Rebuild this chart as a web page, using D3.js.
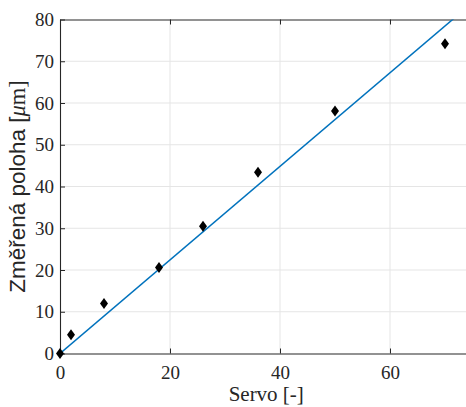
<!DOCTYPE html>
<html>
<head>
<meta charset="utf-8">
<script src="https://cdn.jsdelivr.net/npm/d3@7"></script>
<style>
  body { margin: 0; background: #fff; }
  svg { display: block; }
</style>
</head>
<body>
<script>
// measured points
var servo = [0, 2, 8, 18, 26, 36, 50, 70];
var poloha = [0, 4.5, 12, 20.6, 30.5, 43.4, 58.1, 74.2];
// fitted line (through origin)
var fitX = [0, 75];
var fitY = [0, 84.05];
var xTicks = [0, 20, 40, 60];
var yTicks = [0, 10, 20, 30, 40, 50, 60, 70, 80];

var width = 466, height = 407;
var plotLeft = 60, plotTop = 19.5, plotBottom = 353.5;

var svg = d3.select('body').append('svg').attr('width', width).attr('height', height);

var x = d3.scaleLinear().domain([0, 75]).range([plotLeft, plotLeft + 5.5 * 75]);
var y = d3.scaleLinear().domain([0, 80]).range([plotBottom, plotTop]);

svg.append('defs').append('clipPath').attr('id', 'clip')
  .append('rect')
  .attr('x', x(0)).attr('y', y(80))
  .attr('width', x(75) - x(0)).attr('height', y(0) - y(80));

// grid
var grid = svg.append('g').attr('stroke', '#e5e5e5').attr('stroke-width', 1);
grid.selectAll('.gx').data(xTicks.slice(1)).enter().append('line')
  .attr('x1', function (d) { return x(d); }).attr('x2', function (d) { return x(d); })
  .attr('y1', y(0)).attr('y2', y(80));
grid.selectAll('.gy').data(yTicks.slice(1, -1)).enter().append('line')
  .attr('y1', function (d) { return y(d); }).attr('y2', function (d) { return y(d); })
  .attr('x1', x(0)).attr('x2', x(75));

// axes
var xAxis = svg.append('g').attr('transform', 'translate(0,' + y(0) + ')')
  .call(d3.axisBottom(x).tickValues(xTicks).tickSizeInner(-5).tickSizeOuter(0).tickPadding(12));
var yAxis = svg.append('g').attr('transform', 'translate(' + x(0) + ',0)')
  .call(d3.axisLeft(y).tickValues(yTicks).tickSizeInner(-5).tickSizeOuter(0).tickPadding(6));
var xTop = svg.append('g').attr('transform', 'translate(0,' + y(80) + ')')
  .call(d3.axisTop(x).tickValues(xTicks).tickSizeInner(-5).tickSizeOuter(0).tickFormat(''));

[xAxis, yAxis, xTop].forEach(function (a) {
  a.select('.domain').attr('stroke', '#262626').attr('stroke-width', 1.1);
  a.selectAll('.tick line').attr('stroke', '#262626');
  a.selectAll('.tick text')
    .attr('fill', '#262626')
    .style('font-family', '"Liberation Serif", "Times New Roman", serif')
    .style('font-size', '19px');
});

// fit line
svg.append('path')
  .datum(d3.zip(fitX, fitY))
  .attr('clip-path', 'url(#clip)')
  .attr('fill', 'none')
  .attr('stroke', '#0072BD')
  .attr('stroke-width', 1.5)
  .attr('d', d3.line().x(function (d) { return x(d[0]); }).y(function (d) { return y(d[1]); }));

// markers
svg.selectAll('.pt')
  .data(d3.zip(servo, poloha))
  .enter().append('path')
  .attr('fill', '#000')
  .attr('transform', function (d) { return 'translate(' + x(d[0]) + ',' + y(d[1]) + ')'; })
  .attr('d', 'M0,-5.5L4,0L0,5.5L-4,0Z');

// labels
svg.append('text')
  .attr('x', x(37.5)).attr('y', 401)
  .attr('text-anchor', 'middle')
  .attr('fill', '#262626')
  .style('font-family', '"Liberation Serif", "Times New Roman", serif')
  .style('font-size', '21px')
  .text('Servo [-]');

var yl = svg.append('text')
  .attr('transform', 'translate(25,' + ((plotTop + plotBottom) / 2) + ') rotate(-90)')
  .attr('text-anchor', 'middle')
  .attr('fill', '#262626')
  .style('font-family', '"Liberation Sans", Arial, sans-serif')
  .style('font-size', '22.5px');
yl.append('tspan').text('Změřená poloha [');
yl.append('tspan').style('font-family', '"Liberation Serif", serif').style('font-style', 'italic').text('μ');
yl.append('tspan').style('font-family', '"Liberation Serif", serif').text('m]');
</script>
</body>
</html>
